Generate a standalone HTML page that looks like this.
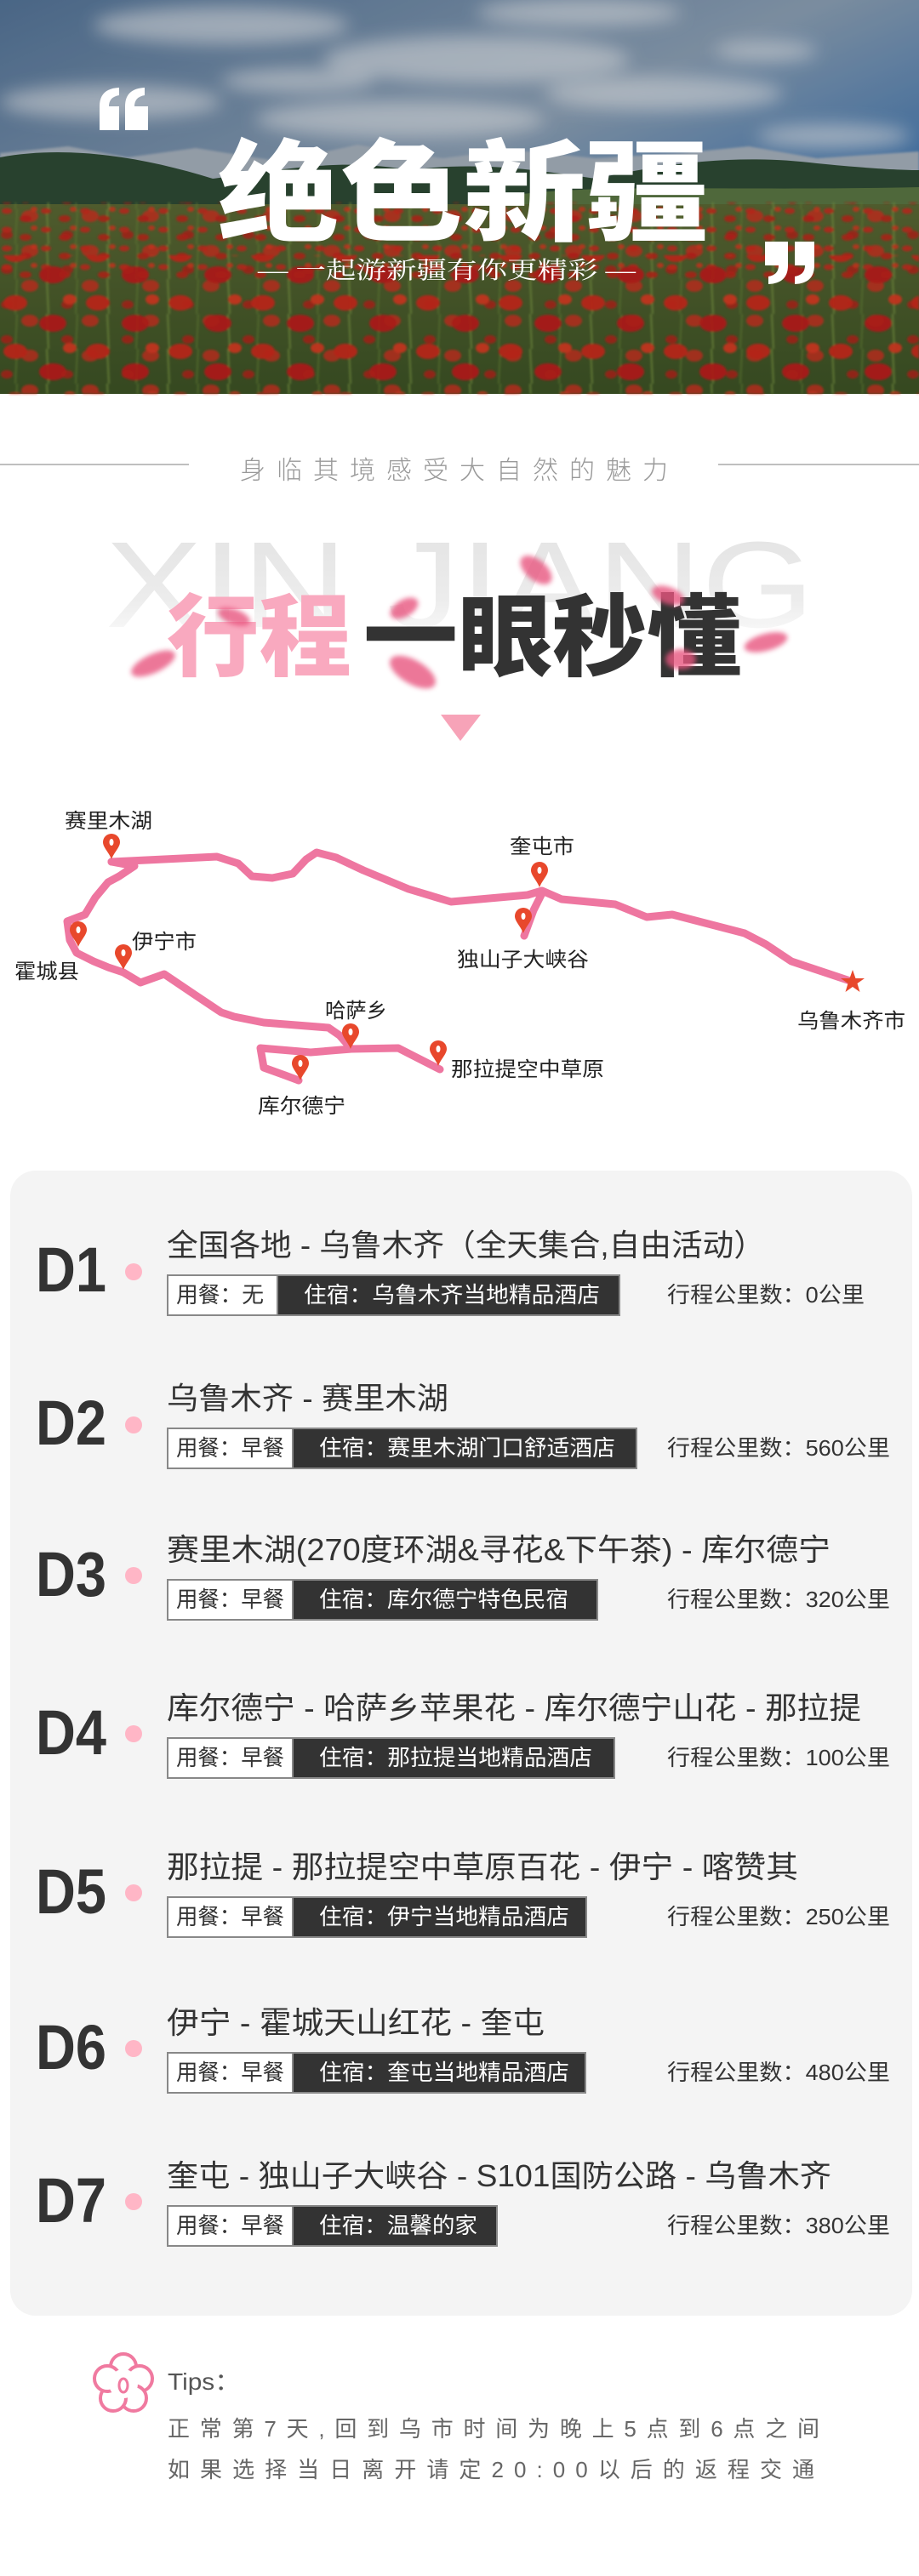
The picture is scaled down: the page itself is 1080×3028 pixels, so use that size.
<!DOCTYPE html>
<html><head><meta charset="utf-8"><style>
html,body{margin:0;padding:0;background:#fff;}
svg{display:block;}
text{font-family:"Liberation Sans","Noto Sans CJK SC",sans-serif;}
</style></head><body>
<svg width="1080" height="3028" viewBox="0 0 1080 3028" xmlns="http://www.w3.org/2000/svg">
<defs>
<linearGradient id="sky" x1="0" y1="0" x2="1" y2="1">
<stop offset="0" stop-color="#56779c"/><stop offset="0.45" stop-color="#8fa4ba"/><stop offset="0.7" stop-color="#4d7fb5"/><stop offset="1" stop-color="#a7b6c4"/></linearGradient>
<linearGradient id="field" x1="0" y1="0" x2="0" y2="1">
<stop offset="0" stop-color="#5c6a35"/><stop offset="1" stop-color="#3e5526"/></linearGradient>
<pattern id="pop1" width="46" height="22" patternUnits="userSpaceOnUse">
<ellipse cx="8" cy="6" rx="6" ry="3.5" fill="#d42a1c"/><ellipse cx="30" cy="15" rx="7" ry="4" fill="#c8231a"/><ellipse cx="40" cy="4" rx="4" ry="3" fill="#e03a22"/></pattern>
<pattern id="pop2" width="97" height="57" patternUnits="userSpaceOnUse">
<ellipse cx="18" cy="14" rx="14" ry="9" fill="#d22a1c"/><ellipse cx="62" cy="38" rx="16" ry="10" fill="#c4201a"/><ellipse cx="82" cy="10" rx="8" ry="6" fill="#e03c24"/></pattern>
<pattern id="pop3" width="71" height="41" patternUnits="userSpaceOnUse">
<ellipse cx="35" cy="8" rx="10" ry="7" fill="#d93020"/><ellipse cx="8" cy="30" rx="7" ry="5" fill="#c22318"/><line x1="55" y1="0" x2="57" y2="41" stroke="#7d9a45" stroke-width="2"/><line x1="20" y1="0" x2="18" y2="41" stroke="#6a8a3a" stroke-width="1.5"/></pattern>
<linearGradient id="ghost" x1="0" y1="0" x2="0" y2="1">
<stop offset="0" stop-color="#e2e2e2"/><stop offset="0.6" stop-color="#ececec"/><stop offset="1" stop-color="#ffffff"/></linearGradient>
<filter id="blur"><feGaussianBlur stdDeviation="3"/></filter>
<filter id="cblur"><feGaussianBlur stdDeviation="10"/></filter>
<filter id="sblur"><feGaussianBlur stdDeviation="1.2"/></filter>
</defs>

<!-- HERO PHOTO -->
<rect x="0" y="0" width="1080" height="463" fill="url(#sky)"/>
<g fill="#eef1f4" opacity="0.6" filter="url(#cblur)">
<ellipse cx="260" cy="30" rx="150" ry="22"/><ellipse cx="560" cy="70" rx="180" ry="28"/><ellipse cx="130" cy="120" rx="130" ry="20"/>
<ellipse cx="470" cy="140" rx="170" ry="22"/><ellipse cx="780" cy="110" rx="140" ry="20"/><ellipse cx="680" cy="15" rx="120" ry="16"/>
<ellipse cx="350" cy="95" rx="90" ry="14"/><ellipse cx="900" cy="60" rx="60" ry="12"/><ellipse cx="980" cy="160" rx="90" ry="14"/></g>
<path d="M0 180 L80 172 L150 185 L230 174 L330 190 L420 170 L520 186 L600 176 L700 186 L800 180 L880 172 L960 186 L1080 178 L1080 260 L0 260 Z" fill="#aab6c2" filter="url(#sblur)"/>
<path d="M0 185 C80 170 170 185 250 210 C330 200 400 185 480 200 C560 190 620 198 700 210 C800 188 880 182 960 192 C1020 198 1060 200 1080 200 L1080 280 L0 280 Z" fill="#2f4c36"/>
<path d="M600 230 C700 215 850 225 1080 220 L1080 260 L600 260 Z" fill="#5d7a45"/>
<rect x="0" y="240" width="1080" height="223" fill="url(#field)"/>
<g filter="url(#sblur)">
<rect x="0" y="238" width="1080" height="225" fill="url(#pop3)" opacity="0.8"/>
<rect x="0" y="238" width="1080" height="90" fill="url(#pop1)" opacity="0.85"/>
<rect x="0" y="300" width="1080" height="163" fill="url(#pop2)" opacity="0.95"/>
</g>
<rect x="0" y="0" width="1080" height="463" fill="#000" opacity="0.14"/>

<!-- quotes -->
<g fill="#fff">
<path d="M117 125 Q117 104 140 103 L140 112 Q128 114 128 125 L140 125 L140 153 L117 153 Z"/>
<path d="M147 125 Q147 104 170 103 L170 112 Q158 114 158 125 L174 125 L174 153 L147 153 Z"/>
<path d="M957 312 Q957 333 934 334 L934 325 Q946 323 946 312 L934 312 L934 284 L957 284 Z"/>
<path d="M926 312 Q926 333 903 334 L903 325 Q915 323 915 312 L899 312 L899 284 L926 284 Z"/>
</g>
<text x="255" y="273" font-size="130" font-weight="900" fill="#fff" textLength="578" lengthAdjust="spacingAndGlyphs" style="font-family:'Noto Sans CJK SC',sans-serif">绝色新疆</text>
<text x="303" y="327" font-size="28" fill="#fff" textLength="444" lengthAdjust="spacingAndGlyphs" style="font-family:'Liberation Serif','Noto Serif CJK SC',serif">— 一起游新疆有你更精彩 —</text>

<!-- subheading -->
<line x1="0" y1="546" x2="222" y2="546" stroke="#aaa" stroke-width="1.5"/>
<line x1="844" y1="546" x2="1080" y2="546" stroke="#aaa" stroke-width="1.5"/>
<text x="282" y="563" font-size="30" fill="#999" textLength="503" lengthAdjust="spacing" font-weight="300">身临其境感受大自然的魅力</text>

<text x="124" y="737" font-size="144" fill="url(#ghost)" textLength="833" lengthAdjust="spacingAndGlyphs">XIN JIANG</text>
<text x="196" y="786" font-size="105" font-weight="900" fill="#f9a9bf" textLength="217" lengthAdjust="spacingAndGlyphs" style="font-family:'Noto Sans CJK SC',sans-serif">行程</text>
<text x="427" y="786" font-size="105" font-weight="900" fill="#333" textLength="444" lengthAdjust="spacingAndGlyphs" style="font-family:'Noto Sans CJK SC',sans-serif">一眼秒懂</text>
<g fill="#e8557f" filter="url(#blur)" opacity="0.8">
<ellipse cx="630" cy="670" rx="22" ry="12" transform="rotate(40 630 670)"/>
<ellipse cx="485" cy="790" rx="30" ry="14" transform="rotate(30 485 790)"/>
<ellipse cx="180" cy="780" rx="28" ry="11" transform="rotate(-25 180 780)"/>
<ellipse cx="900" cy="755" rx="26" ry="10" transform="rotate(-15 900 755)"/>
<ellipse cx="475" cy="715" rx="18" ry="10" transform="rotate(-30 475 715)"/>
<ellipse cx="275" cy="725" rx="20" ry="9" transform="rotate(20 275 725)"/>
<ellipse cx="800" cy="775" rx="18" ry="12"/>
<ellipse cx="785" cy="700" rx="20" ry="10" transform="rotate(20 785 700)"/>
</g>
<polygon points="518,840 565,840 541,871" fill="#f7a3b8"/>

<!-- MAP -->
<g fill="none" stroke="#ee76a0" stroke-width="9" stroke-linejoin="round" stroke-linecap="round">
<polyline points="131,1013 255,1007 280,1015 296,1030 320,1032 344,1027 360,1010 372,1002 395,1008 427,1023 480,1045 530,1060 620,1052 637,1047 660,1057 723,1063 760,1078 790,1075 875,1097 900,1110 930,1130 960,1140 999,1153"/>
<polyline points="131,1013 158,1018 140,1030 127,1037 112,1055 100,1075 79,1083 82,1105 90,1120 110,1130 127,1137 145,1143 165,1155 193,1145 230,1170 260,1190 275,1195 310,1202 386,1208 399,1217 413,1233 468,1232 517,1257"/>
<polyline points="413,1233 365,1237 306,1232 310,1255 335,1264 351,1270"/>
<polyline points="637,1050 627,1070 616,1100"/>
</g>
<g fill="#e8482c">
<g transform="translate(131,1010)"><path d="M0 0 C-3 -8 -10 -14 -10 -20 A10 10 0 1 1 10 -20 C10 -14 3 -8 0 0 Z"/><ellipse cx="0" cy="-20" rx="2.5" ry="4" fill="#fff"/></g>
<g transform="translate(634,1043)"><path d="M0 0 C-3 -8 -10 -14 -10 -20 A10 10 0 1 1 10 -20 C10 -14 3 -8 0 0 Z"/><ellipse cx="0" cy="-20" rx="2.5" ry="4" fill="#fff"/></g>
<g transform="translate(615,1097)"><path d="M0 0 C-3 -8 -10 -14 -10 -20 A10 10 0 1 1 10 -20 C10 -14 3 -8 0 0 Z"/><ellipse cx="0" cy="-20" rx="2.5" ry="4" fill="#fff"/></g>
<g transform="translate(92,1113)"><path d="M0 0 C-3 -8 -10 -14 -10 -20 A10 10 0 1 1 10 -20 C10 -14 3 -8 0 0 Z"/><ellipse cx="0" cy="-20" rx="2.5" ry="4" fill="#fff"/></g>
<g transform="translate(145,1140)"><path d="M0 0 C-3 -8 -10 -14 -10 -20 A10 10 0 1 1 10 -20 C10 -14 3 -8 0 0 Z"/><ellipse cx="0" cy="-20" rx="2.5" ry="4" fill="#fff"/></g>
<g transform="translate(412,1233)"><path d="M0 0 C-3 -8 -10 -14 -10 -20 A10 10 0 1 1 10 -20 C10 -14 3 -8 0 0 Z"/><ellipse cx="0" cy="-20" rx="2.5" ry="4" fill="#fff"/></g>
<g transform="translate(515,1253)"><path d="M0 0 C-3 -8 -10 -14 -10 -20 A10 10 0 1 1 10 -20 C10 -14 3 -8 0 0 Z"/><ellipse cx="0" cy="-20" rx="2.5" ry="4" fill="#fff"/></g>
<g transform="translate(353,1270)"><path d="M0 0 C-3 -8 -10 -14 -10 -20 A10 10 0 1 1 10 -20 C10 -14 3 -8 0 0 Z"/><ellipse cx="0" cy="-20" rx="2.5" ry="4" fill="#fff"/></g>
<polygon points="1002,1140 1005.5,1150 1016,1150 1007.5,1156 1010.5,1166 1002,1160 993.5,1166 996.5,1156 988,1150 998.5,1150"/>
</g>
<g font-size="24" fill="#222">
<text x="76" y="973" textLength="103" lengthAdjust="spacingAndGlyphs">赛里木湖</text>
<text x="599" y="1003" textLength="76" lengthAdjust="spacingAndGlyphs">奎屯市</text>
<text x="537" y="1136" textLength="155" lengthAdjust="spacingAndGlyphs">独山子大峡谷</text>
<text x="17" y="1150" textLength="76" lengthAdjust="spacingAndGlyphs">霍城县</text>
<text x="155" y="1115" textLength="76" lengthAdjust="spacingAndGlyphs">伊宁市</text>
<text x="382" y="1196" textLength="73" lengthAdjust="spacingAndGlyphs">哈萨乡</text>
<text x="530" y="1265" textLength="180" lengthAdjust="spacingAndGlyphs">那拉提空中草原</text>
<text x="303" y="1308" textLength="103" lengthAdjust="spacingAndGlyphs">库尔德宁</text>
<text x="937" y="1208" textLength="127" lengthAdjust="spacingAndGlyphs">乌鲁木齐市</text>
</g>

<!-- CARD -->
<rect x="12" y="1376" width="1060" height="1346" rx="30" fill="#f4f4f4"/>

<g id="rows">
<text x="42" y="1518" font-size="74" font-weight="bold" fill="#333" textLength="83" lengthAdjust="spacingAndGlyphs">D1</text>
<circle cx="157" cy="1495" r="10" fill="#ffb6c6"/>
<text x="196" y="1476" font-size="36" fill="#333" textLength="703" lengthAdjust="spacingAndGlyphs">全国各地 - 乌鲁木齐（全天集合,自由活动）</text>
<rect x="197" y="1499" width="531" height="47" fill="#fff" stroke="#888" stroke-width="2"/>
<rect x="326" y="1499" width="402" height="47" fill="#333" stroke="#888" stroke-width="2"/>
<text x="207" y="1531" font-size="26" fill="#333" textLength="103" lengthAdjust="spacingAndGlyphs">用餐：无</text>
<text x="357" y="1531" font-size="26" fill="#fff" textLength="348" lengthAdjust="spacingAndGlyphs">住宿：乌鲁木齐当地精品酒店</text>
<text x="784" y="1531" font-size="26" fill="#333" textLength="232" lengthAdjust="spacingAndGlyphs">行程公里数：0公里</text>

<text x="42" y="1698" font-size="74" font-weight="bold" fill="#333" textLength="83" lengthAdjust="spacingAndGlyphs">D2</text>
<circle cx="157" cy="1675" r="10" fill="#ffb6c6"/>
<text x="196" y="1656" font-size="36" fill="#333" textLength="331" lengthAdjust="spacingAndGlyphs">乌鲁木齐 - 赛里木湖</text>
<rect x="197" y="1679" width="551" height="47" fill="#fff" stroke="#888" stroke-width="2"/>
<rect x="344" y="1679" width="404" height="47" fill="#333" stroke="#888" stroke-width="2"/>
<text x="207" y="1711" font-size="26" fill="#333" textLength="127" lengthAdjust="spacingAndGlyphs">用餐：早餐</text>
<text x="375" y="1711" font-size="26" fill="#fff" textLength="348" lengthAdjust="spacingAndGlyphs">住宿：赛里木湖门口舒适酒店</text>
<text x="784" y="1711" font-size="26" fill="#333" textLength="262" lengthAdjust="spacingAndGlyphs">行程公里数：560公里</text>

<text x="42" y="1876" font-size="74" font-weight="bold" fill="#333" textLength="83" lengthAdjust="spacingAndGlyphs">D3</text>
<circle cx="157" cy="1852" r="10" fill="#ffb6c6"/>
<text x="196" y="1834" font-size="36" fill="#333" textLength="780" lengthAdjust="spacingAndGlyphs">赛里木湖(270度环湖&amp;寻花&amp;下午茶) - 库尔德宁</text>
<rect x="197" y="1857" width="505" height="47" fill="#fff" stroke="#888" stroke-width="2"/>
<rect x="344" y="1857" width="358" height="47" fill="#333" stroke="#888" stroke-width="2"/>
<text x="207" y="1889" font-size="26" fill="#333" textLength="127" lengthAdjust="spacingAndGlyphs">用餐：早餐</text>
<text x="375" y="1889" font-size="26" fill="#fff" textLength="293" lengthAdjust="spacingAndGlyphs">住宿：库尔德宁特色民宿</text>
<text x="784" y="1889" font-size="26" fill="#333" textLength="262" lengthAdjust="spacingAndGlyphs">行程公里数：320公里</text>

<text x="42" y="2062" font-size="74" font-weight="bold" fill="#333" textLength="83" lengthAdjust="spacingAndGlyphs">D4</text>
<circle cx="157" cy="2038" r="10" fill="#ffb6c6"/>
<text x="196" y="2020" font-size="36" fill="#333" textLength="816" lengthAdjust="spacingAndGlyphs">库尔德宁 - 哈萨乡苹果花 - 库尔德宁山花 - 那拉提</text>
<rect x="197" y="2043" width="525" height="47" fill="#fff" stroke="#888" stroke-width="2"/>
<rect x="344" y="2043" width="378" height="47" fill="#333" stroke="#888" stroke-width="2"/>
<text x="207" y="2075" font-size="26" fill="#333" textLength="127" lengthAdjust="spacingAndGlyphs">用餐：早餐</text>
<text x="375" y="2075" font-size="26" fill="#fff" textLength="321" lengthAdjust="spacingAndGlyphs">住宿：那拉提当地精品酒店</text>
<text x="784" y="2075" font-size="26" fill="#333" textLength="262" lengthAdjust="spacingAndGlyphs">行程公里数：100公里</text>

<text x="42" y="2249" font-size="74" font-weight="bold" fill="#333" textLength="83" lengthAdjust="spacingAndGlyphs">D5</text>
<circle cx="157" cy="2225" r="10" fill="#ffb6c6"/>
<text x="196" y="2207" font-size="36" fill="#333" textLength="742" lengthAdjust="spacingAndGlyphs">那拉提 - 那拉提空中草原百花 - 伊宁 - 喀赞其</text>
<rect x="197" y="2230" width="492" height="47" fill="#fff" stroke="#888" stroke-width="2"/>
<rect x="344" y="2230" width="345" height="47" fill="#333" stroke="#888" stroke-width="2"/>
<text x="207" y="2262" font-size="26" fill="#333" textLength="127" lengthAdjust="spacingAndGlyphs">用餐：早餐</text>
<text x="375" y="2262" font-size="26" fill="#fff" textLength="294" lengthAdjust="spacingAndGlyphs">住宿：伊宁当地精品酒店</text>
<text x="784" y="2262" font-size="26" fill="#333" textLength="262" lengthAdjust="spacingAndGlyphs">行程公里数：250公里</text>

<text x="42" y="2432" font-size="74" font-weight="bold" fill="#333" textLength="83" lengthAdjust="spacingAndGlyphs">D6</text>
<circle cx="157" cy="2408" r="10" fill="#ffb6c6"/>
<text x="196" y="2390" font-size="36" fill="#333" textLength="444" lengthAdjust="spacingAndGlyphs">伊宁 - 霍城天山红花 - 奎屯</text>
<rect x="197" y="2413" width="491" height="47" fill="#fff" stroke="#888" stroke-width="2"/>
<rect x="344" y="2413" width="344" height="47" fill="#333" stroke="#888" stroke-width="2"/>
<text x="207" y="2445" font-size="26" fill="#333" textLength="127" lengthAdjust="spacingAndGlyphs">用餐：早餐</text>
<text x="375" y="2445" font-size="26" fill="#fff" textLength="294" lengthAdjust="spacingAndGlyphs">住宿：奎屯当地精品酒店</text>
<text x="784" y="2445" font-size="26" fill="#333" textLength="262" lengthAdjust="spacingAndGlyphs">行程公里数：480公里</text>

<text x="42" y="2612" font-size="74" font-weight="bold" fill="#333" textLength="83" lengthAdjust="spacingAndGlyphs">D7</text>
<circle cx="157" cy="2588" r="10" fill="#ffb6c6"/>
<text x="196" y="2570" font-size="36" fill="#333" textLength="781" lengthAdjust="spacingAndGlyphs">奎屯 - 独山子大峡谷 - S101国防公路 - 乌鲁木齐</text>
<rect x="197" y="2593" width="387" height="47" fill="#fff" stroke="#888" stroke-width="2"/>
<rect x="344" y="2593" width="240" height="47" fill="#333" stroke="#888" stroke-width="2"/>
<text x="207" y="2625" font-size="26" fill="#333" textLength="127" lengthAdjust="spacingAndGlyphs">用餐：早餐</text>
<text x="375" y="2625" font-size="26" fill="#fff" textLength="186" lengthAdjust="spacingAndGlyphs">住宿：温馨的家</text>
<text x="784" y="2625" font-size="26" fill="#333" textLength="262" lengthAdjust="spacingAndGlyphs">行程公里数：380公里</text>
</g>

<!-- TIPS -->
<g transform="translate(145,2802)" stroke="#f07aa0" stroke-width="4" fill="#fff">
<circle cx="0" cy="-20" r="15"/><circle cx="19" cy="-6" r="15"/><circle cx="12" cy="17" r="15"/><circle cx="-12" cy="17" r="15"/><circle cx="-19" cy="-6" r="15"/>
<circle cx="0" cy="0" r="17" stroke="none"/>
<ellipse cx="0" cy="2" rx="5" ry="8" fill="none" stroke-width="3"/>
</g>
<text x="197" y="2809" font-size="28" fill="#555" textLength="85" lengthAdjust="spacingAndGlyphs">Tips：</text>
<text x="197" y="2864" font-size="26" fill="#666" textLength="766" lengthAdjust="spacing">正常第7天,回到乌市时间为晚上5点到6点之间</text>
<text x="197" y="2912" font-size="26" fill="#666" textLength="760" lengthAdjust="spacing">如果选择当日离开请定20:00以后的返程交通</text>
</svg>
</body></html>
